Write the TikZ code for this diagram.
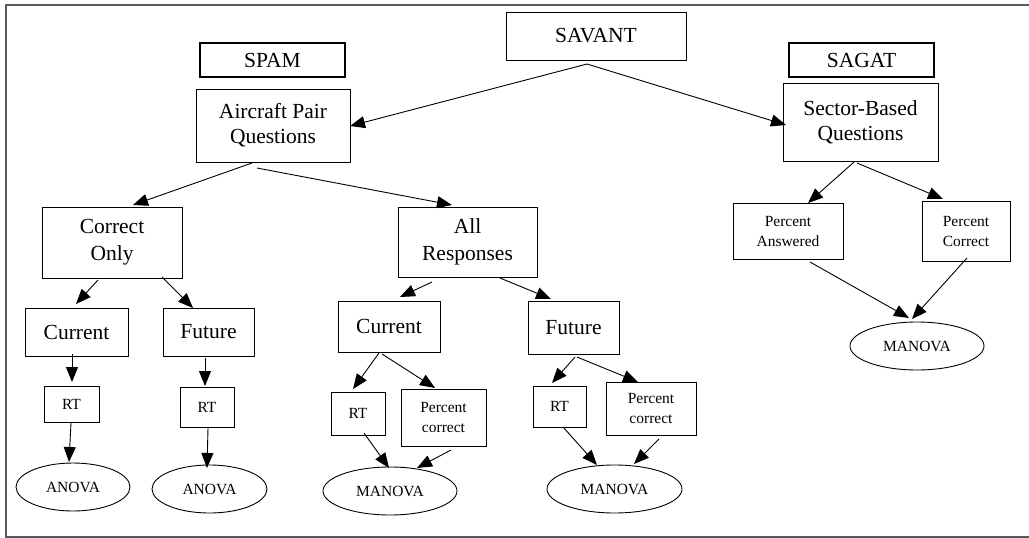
\documentclass[tikz,border=0pt]{standalone}
\usepackage{fontspec}
\setmainfont{Liberation Serif}
\usetikzlibrary{shapes.geometric,arrows.meta,calc}
\tikzset{
  box/.style={draw=black,line width=0.9pt,rectangle,inner sep=0pt,align=center},
  bigtxt/.style={font=\fontsize{21.5}{25}\selectfont},
  smalltxt/.style={font=\fontsize{15.5}{20}\selectfont},
  thickbox/.style={box,line width=2pt},
  oval/.style={draw=black,line width=0.9pt,ellipse,inner sep=0pt},
  arr/.style={draw=black,line width=0.9pt,-{Triangle[length=15pt,width=12pt]}},
  frame/.style={draw=black!65,line width=2pt}
}
\newcommand{\lowtwo}[3]{\raisebox{#1}{\begin{tabular}{@{}c@{}}#2\\#3\end{tabular}}}
\begin{document}
\begin{tikzpicture}[x=1pt,y=-1pt]
\useasboundingbox (0,0) rectangle (1029,538);
\draw[frame] (1035,4.5) -- (6,4.5) -- (6,537) -- (1035,537);

% top level
\node[box,bigtxt,minimum width=180pt,minimum height=48pt] (savant) at (596,36) {SAVANT};
\node[thickbox,bigtxt,minimum width=145pt,minimum height=34pt] (spam) at (272.5,60) {SPAM};
\node[thickbox,bigtxt,minimum width=145pt,minimum height=34pt] (sagat) at (861.5,60) {SAGAT};
\node[box,bigtxt,minimum width=154pt,minimum height=73pt] (ap) at (273,125.5) {\lowtwo{-4pt}{Aircraft Pair}{Questions}};
\node[box,bigtxt,minimum width=155pt,minimum height=78pt] (sbq) at (860.5,122) {Sector-Based\\Questions};

% second level
\node[box,bigtxt,minimum width=140pt,minimum height=71pt,font=\fontsize{21.5}{27}\selectfont] (co) at (112,242.5) {Correct\\Only};
\node[box,bigtxt,minimum width=139pt,minimum height=70pt,font=\fontsize{21.5}{27}\selectfont] (ar) at (467.5,242) {All\\Responses};
\node[box,smalltxt,minimum width=110pt,minimum height=56pt] (pa) at (788,231) {Percent\\Answered};
\node[box,smalltxt,minimum width=88pt,minimum height=60pt] (pcr) at (966,231) {Percent\\Correct};

% third level
\node[box,bigtxt,minimum width=103pt,minimum height=48pt] (cur1) at (76.5,332) {Current};
\node[box,bigtxt,minimum width=91pt,minimum height=48pt] (fut1) at (208.5,332) {Future};
\node[box,bigtxt,minimum width=102pt,minimum height=51pt] (cur2) at (389,326.5) {Current};
\node[box,bigtxt,minimum width=91pt,minimum height=53pt] (fut2) at (573.5,327.5) {Future};

% fourth level
\node[box,smalltxt,minimum width=55pt,minimum height=36pt] (rt1) at (71.5,404) {RT};
\node[box,smalltxt,minimum width=54pt,minimum height=40pt] (rt2) at (207,407) {RT};
\node[box,smalltxt,minimum width=54pt,minimum height=43pt] (rt3) at (358,413.5) {RT};
\node[box,smalltxt,minimum width=85pt,minimum height=57pt] (pc3) at (443.5,417.5) {Percent\\correct};
\node[box,smalltxt,minimum width=53pt,minimum height=41pt] (rt4) at (559.5,406.5) {RT};
\node[box,smalltxt,minimum width=90pt,minimum height=53pt] (pc4) at (651,408.5) {Percent\\correct};

% ovals
\node[oval,smalltxt,minimum width=114pt,minimum height=48pt] (an1) at (73,487) {ANOVA};
\node[oval,smalltxt,minimum width=115pt,minimum height=48pt] (an2) at (209.5,489) {ANOVA};
\node[oval,smalltxt,minimum width=134pt,minimum height=48pt] (ma3) at (390,491) {MANOVA};
\node[oval,smalltxt,minimum width=135pt,minimum height=48pt] (ma4) at (614.5,489) {MANOVA};
\node[oval,smalltxt,minimum width=134pt,minimum height=48pt] (ma5) at (917,346) {MANOVA};

% connectors
\draw[arr] ($(savant)+(-9,28)$) -- ($(ap)+(77,0.5)$);
\draw[arr] ($(savant)+(-9,28)$) -- ($(sbq)+(-74.5,3)$);
\draw[arr] ($(ap)+(-21,37.5)$) -- ($(co)+(21,-37.5)$);
\draw[arr] ($(ap)+(-16,42.5)$) -- ($(ar)+(-15.5,-37)$);
\draw[arr] ($(sbq)+(-6.5,40)$) -- ($(pa)+(20,-28)$);
\draw[arr] ($(sbq)+(-3.5,41)$) -- ($(pcr)+(-23,-32)$);

\draw[arr] ($(co)+(-14,37.5)$) -- ($(cur1)+(-0.5,-28)$);
\draw[arr] ($(co)+(50,34.5)$) -- ($(fut1)+(-15.5,-24)$);
\draw[arr] ($(cur1)+(-4.5,22)$) -- ($(rt1)+(0.5,-22)$);
\draw[arr] ($(fut1)+(-3.5,26)$) -- ($(rt2)+(-2,-21)$);
\draw[arr] ($(rt1)+(-0.5,19)$) -- ($(an1)+(-4,-25)$);
\draw[arr] ($(rt2)+(1,21)$) -- ($(an2)+(-2.5,-21)$);

\draw[arr] ($(ar)+(-35.5,40)$) -- ($(cur2)+(11,-29.5)$);
\draw[arr] ($(ar)+(32.5,36)$) -- ($(fut2)+(-22.5,-28.5)$);
\draw[arr] ($(cur2)+(-10,26.5)$) -- ($(rt3)+(-5,-24.5)$);
\draw[arr] ($(cur2)+(-7,27.5)$) -- ($(pc3)+(-8.5,-29.5)$);
\draw[arr] ($(rt3)+(6,19.5)$) -- ($(ma3)+(-1,-23)$);
\draw[arr] ($(pc3)+(7.5,32.5)$) -- ($(ma3)+(27,-23)$);

\draw[arr] ($(fut2)+(1.5,29.5)$) -- ($(rt4)+(-7.5,-23.5)$);
\draw[arr] ($(fut2)+(3.5,29.5)$) -- ($(pc4)+(-13,-26.5)$);
\draw[arr] ($(rt4)+(3.5,20.5)$) -- ($(ma4)+(-17.5,-24)$);
\draw[arr] ($(pc4)+(8,30.5)$) -- ($(ma4)+(19.5,-25)$);

\draw[arr] ($(pa)+(22,31)$) -- ($(ma5)+(-8,-28)$);
\draw[arr] ($(pcr)+(1,27)$) -- ($(ma5)+(-5,-27)$);
\end{tikzpicture}
\end{document}
